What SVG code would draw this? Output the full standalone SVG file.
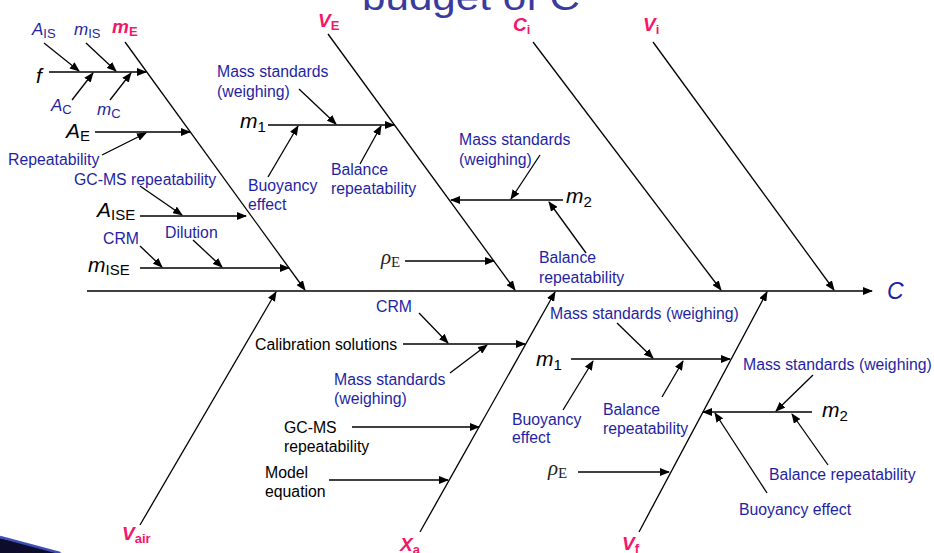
<svg xmlns="http://www.w3.org/2000/svg" width="934" height="553" viewBox="0 0 934 553">
<style>
.t{font-family:"Liberation Sans",Arial,sans-serif;font-size:15.8px;fill:#1f1fa3}
.k{fill:#000}
.v{font-family:"Liberation Sans",Arial,sans-serif;font-style:italic;font-size:21px;fill:#000}
.vs{font-family:"Liberation Sans",Arial,sans-serif;font-style:italic;font-size:17px;fill:#1f1fa3}
.s{font-style:normal;font-size:15px}
.ss{font-style:normal;font-size:13px}
.p{font-family:"Liberation Sans",Arial,sans-serif;font-style:italic;font-weight:bold;font-size:19px;fill:#f5156b}
.ps{font-style:normal;font-size:13px}
.r{font-family:"Liberation Serif","Times New Roman",serif;font-style:italic;font-size:21px;fill:#222}
.rs{font-style:normal;font-size:15px}
.ln{stroke:#000;stroke-width:1.3;fill:none;marker-end:url(#ah)}
</style>
<defs>
<marker id="ah" markerUnits="userSpaceOnUse" markerWidth="10" markerHeight="8" refX="9" refY="4" orient="auto">
<path d="M0,0 L10,4 L0,8 z" fill="#000"/>
</marker>
</defs>
<rect width="934" height="553" fill="#fff"/>
<g id="title"><text x="362" y="10" font-family="'Liberation Sans',Arial,sans-serif" font-size="36" fill="#3b3b9e" textLength="218" lengthAdjust="spacingAndGlyphs">budget of C</text></g>
<g id="swoosh">
<polygon points="0,538 62,553 0,553" fill="#0d0d2b"/>
<line x1="0" y1="537" x2="60" y2="553" stroke="#3c4fb8" stroke-width="2.5"/>
</g>
<g id="connectors">
<line class="ln" x1="87" y1="291" x2="872" y2="291"/>
<line class="ln" x1="125" y1="42" x2="305" y2="290"/>
<line class="ln" x1="328" y1="34" x2="515" y2="290"/>
<line class="ln" x1="533" y1="42" x2="721" y2="290"/>
<line class="ln" x1="653" y1="42" x2="834" y2="290"/>
<line class="ln" x1="140" y1="525" x2="276" y2="292"/>
<line class="ln" x1="420" y1="532" x2="555" y2="292"/>
<line class="ln" x1="639" y1="532" x2="767" y2="292"/>
<!-- mE branch -->
<line class="ln" x1="49" y1="72" x2="146" y2="72"/>
<line class="ln" x1="44" y1="43" x2="79" y2="71"/>
<line class="ln" x1="86" y1="43" x2="116" y2="71"/>
<line class="ln" x1="72" y1="100" x2="93" y2="73"/>
<line class="ln" x1="110" y1="100" x2="131" y2="73"/>
<line class="ln" x1="95" y1="132" x2="190" y2="132"/>
<line class="ln" x1="102" y1="155" x2="146" y2="133"/>
<line class="ln" x1="140" y1="216" x2="246" y2="216"/>
<line class="ln" x1="140" y1="186" x2="182" y2="215"/>
<line class="ln" x1="140" y1="268" x2="289" y2="268"/>
<line class="ln" x1="140" y1="246" x2="162" y2="267"/>
<line class="ln" x1="193" y1="240" x2="222" y2="267"/>
<!-- VE branch -->
<line class="ln" x1="268" y1="125" x2="394" y2="125"/>
<line class="ln" x1="299" y1="89" x2="336" y2="124"/>
<line class="ln" x1="268" y1="177" x2="298" y2="126"/>
<line class="ln" x1="360" y1="164" x2="381" y2="126"/>
<line class="ln" x1="563" y1="200" x2="451" y2="200"/>
<line class="ln" x1="540" y1="155" x2="511" y2="199"/>
<line class="ln" x1="586" y1="253" x2="549" y2="202"/>
<line class="ln" x1="405" y1="261" x2="494" y2="261"/>
<!-- Xa branch -->
<line class="ln" x1="403" y1="344" x2="525" y2="344"/>
<line class="ln" x1="419" y1="313" x2="448" y2="343"/>
<line class="ln" x1="450" y1="373" x2="487" y2="345"/>
<line class="ln" x1="352" y1="427" x2="479" y2="427"/>
<line class="ln" x1="329" y1="480" x2="448" y2="480"/>
<!-- Vf branch -->
<line class="ln" x1="571" y1="359" x2="730" y2="359"/>
<line class="ln" x1="617" y1="323" x2="653" y2="358"/>
<line class="ln" x1="563" y1="410" x2="593" y2="361"/>
<line class="ln" x1="662" y1="397" x2="683" y2="361"/>
<line class="ln" x1="812" y1="412" x2="703" y2="412"/>
<line class="ln" x1="813" y1="375" x2="776" y2="411"/>
<line class="ln" x1="767" y1="493" x2="715" y2="413"/>
<line class="ln" x1="828" y1="465" x2="792" y2="414"/>
<line class="ln" x1="578" y1="472" x2="669" y2="472"/>
</g>
<g id="n-C"><text x="887" y="299" font-family="'Liberation Sans',Arial,sans-serif" font-style="italic" font-size="23" fill="#1f1fa3">C</text></g>
<g id="n-mE"><text class="p" x="112" y="33">m<tspan class="ps" dy="3">E</tspan></text></g>
<g id="n-VE"><text class="p" x="318" y="27">V<tspan class="ps" dy="3">E</tspan></text></g>
<g id="n-Ci"><text class="p" x="513" y="31">C<tspan class="ps" dy="3">i</tspan></text></g>
<g id="n-Vi"><text class="p" x="643" y="31">V<tspan class="ps" dy="3">i</tspan></text></g>
<g id="n-Vair"><text class="p" x="122" y="540">V<tspan class="ps" dy="3">air</tspan></text></g>
<g id="n-Xa"><text class="p" x="400" y="551">X<tspan class="ps" dy="3">a</tspan></text></g>
<g id="n-Vf"><text class="p" x="622" y="550">V<tspan class="ps" dy="3">f</tspan></text></g>
<g id="n-AIS"><text class="vs" x="32" y="35">A<tspan class="ss" dy="3">IS</tspan></text></g>
<g id="n-mIS"><text class="vs" x="74" y="35">m<tspan class="ss" dy="3">IS</tspan></text></g>
<g id="n-AC"><text class="vs" x="51" y="111">A<tspan class="ss" dy="3">C</tspan></text></g>
<g id="n-mC"><text class="vs" x="97" y="115">m<tspan class="ss" dy="3">C</tspan></text></g>
<g id="n-f"><text class="v" x="36" y="83">f</text></g>
<g id="n-AE"><text class="v" x="66" y="138">A<tspan class="s" dy="3">E</tspan></text></g>
<g id="n-rep"><text class="t" x="8" y="165">Repeatability</text></g>
<g id="n-gcms1"><text class="t" x="74" y="185">GC-MS repeatability</text></g>
<g id="n-AISE"><text class="v" x="97" y="217">A<tspan class="s" dy="3">ISE</tspan></text></g>
<g id="n-dil"><text class="t" x="165" y="238">Dilution</text></g>
<g id="n-crm1"><text class="t" x="103" y="244">CRM</text></g>
<g id="n-mISE"><text class="v" x="88" y="272">m<tspan class="s" dy="3">ISE</tspan></text></g>
<g id="n-ms1"><text class="t" x="217" y="77">Mass standards</text><text class="t" x="217" y="97">(weighing)</text></g>
<g id="n-m1a"><text class="v" x="240" y="128">m<tspan class="s" dy="4">1</tspan></text></g>
<g id="n-buoy1"><text class="t" x="248" y="191">Buoyancy</text><text class="t" x="248" y="210">effect</text></g>
<g id="n-bal1"><text class="t" x="331" y="175">Balance</text><text class="t" x="331" y="194">repeatability</text></g>
<g id="n-ms2"><text class="t" x="459" y="145">Mass standards</text><text class="t" x="459" y="165">(weighing)</text></g>
<g id="n-m2a"><text class="v" x="566" y="203">m<tspan class="s" dy="4">2</tspan></text></g>
<g id="n-bal2"><text class="t" x="539" y="263">Balance</text><text class="t" x="539" y="283">repeatability</text></g>
<g id="n-rhoE1"><text class="r" x="381" y="264">ρ<tspan class="rs" dy="3">E</tspan></text></g>
<g id="n-crm2"><text class="t" x="376" y="312">CRM</text></g>
<g id="n-cal"><text class="t k" x="255" y="350">Calibration solutions</text></g>
<g id="n-ms3"><text class="t" x="334" y="385">Mass standards</text><text class="t" x="334" y="404">(weighing)</text></g>
<g id="n-gcms2"><text class="t k" x="284" y="433">GC-MS</text><text class="t k" x="284" y="452">repeatability</text></g>
<g id="n-model"><text class="t k" x="265" y="478">Model</text><text class="t k" x="265" y="497">equation</text></g>
<g id="n-ms4"><text class="t" x="550" y="319">Mass standards (weighing)</text></g>
<g id="n-m1b"><text class="v" x="536" y="366">m<tspan class="s" dy="4">1</tspan></text></g>
<g id="n-buoy2"><text class="t" x="512" y="425">Buoyancy</text><text class="t" x="512" y="443">effect</text></g>
<g id="n-bal3"><text class="t" x="603" y="415">Balance</text><text class="t" x="603" y="434">repeatability</text></g>
<g id="n-ms5"><text class="t" x="743" y="370">Mass standards (weighing)</text></g>
<g id="n-m2b"><text class="v" x="822" y="417">m<tspan class="s" dy="4">2</tspan></text></g>
<g id="n-bal4"><text class="t" x="769" y="480">Balance repeatability</text></g>
<g id="n-buoy3"><text class="t" x="739" y="515">Buoyancy effect</text></g>
<g id="n-rhoE2"><text class="r" x="548" y="475">ρ<tspan class="rs" dy="3">E</tspan></text></g>
</svg>
